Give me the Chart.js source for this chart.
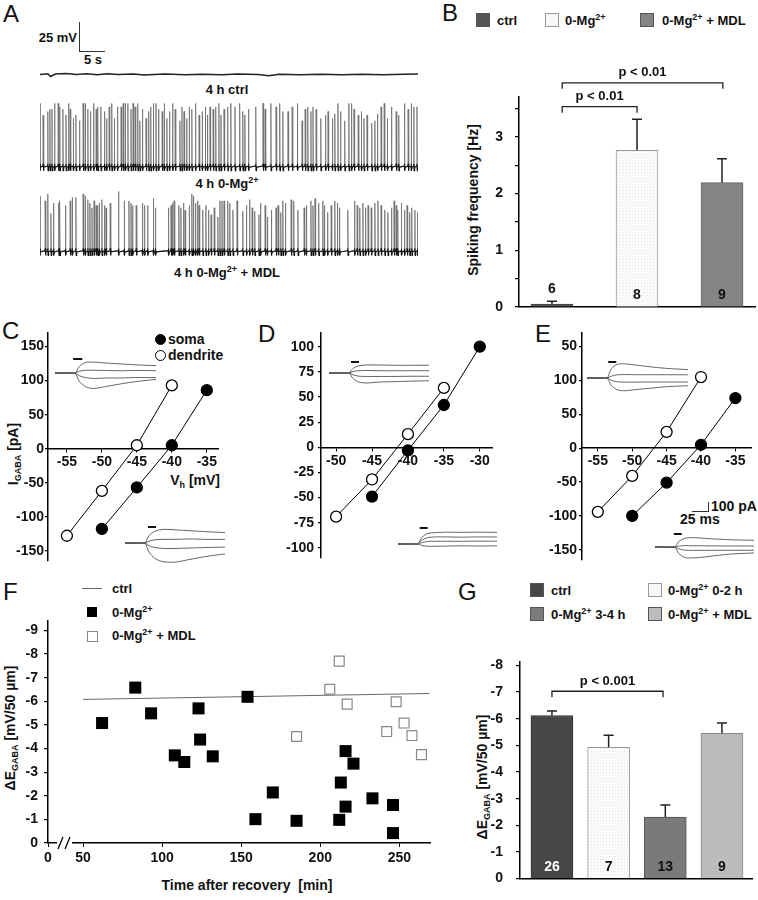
<!DOCTYPE html>
<html>
<head>
<meta charset="utf-8">
<script src="https://cdn.jsdelivr.net/npm/chart.js"></script>
<style>
  body { margin: 0; background: #fff; }
  #fig { position: relative; width: 758px; height: 900px; overflow: hidden; background: #fff;
         font-family: "Liberation Sans", Arial, sans-serif; color: #111; }
  #fig canvas { position: absolute; }
  .t { position: absolute; white-space: nowrap; font-weight: bold; font-size: 13px; line-height: 1; transform: translateY(-50%); }
  .c { transform: translate(-50%, -50%); }
  .v { transform: translate(-50%, -50%) rotate(-90deg); }
  .f14 { font-size: 14px; }
  .L { position: absolute; font-size: 24px; line-height: 1; }
  .sw { position: absolute; width: 14px; height: 14px; box-sizing: border-box; border: 1px solid #555; }
  .ln { position: absolute; background: #333; }
  .dot { position: absolute; width: 11px; height: 11px; border-radius: 50%; box-sizing: border-box; border: 1.3px solid #000; }
  sup { font-size: 9px; vertical-align: 5px; line-height: 0; }
  sub { font-size: 9px; vertical-align: -3px; line-height: 0; }
</style>
</head>
<body>
<div id="fig">
  <div class="L" style="left:3px;top:2px">A</div>
  <div class="L" style="left:442px;top:1px">B</div>
  <div class="L" style="left:2px;top:319px">C</div>
  <div class="L" style="left:258px;top:322px">D</div>
  <div class="L" style="left:535px;top:322px">E</div>
  <div class="L" style="left:3px;top:580px">F</div>
  <div class="L" style="left:458px;top:580px">G</div>

  <!-- A -->
  <div class="t" style="right:681px;top:37px">25 mV</div>
  <div class="t" style="left:84px;top:59px">5 s</div>
  <div class="ln" style="left:79px;top:22px;width:1px;height:29px"></div>
  <div class="ln" style="left:79px;top:51px;width:26px;height:1px"></div>
  <div class="t c" style="left:227px;top:89px">4 h ctrl</div>
  <div class="t c" style="left:227px;top:183px">4 h 0-Mg<sup>2+</sup></div>
  <div class="t c" style="left:227px;top:272px">4 h 0-Mg<sup>2+</sup> + MDL</div>

  <!-- B legend / title -->
  <div class="sw" style="left:476px;top:13px;background:#555"></div>
  <div class="t" style="left:497px;top:20px">ctrl</div>
  <div class="sw" style="left:545px;top:13px;background:#f8f8f8;border-color:#999"></div>
  <div class="t" style="left:565px;top:20px">0-Mg<sup>2+</sup></div>
  <div class="sw" style="left:640px;top:13px;background:#858585"></div>
  <div class="t" style="left:662px;top:20px">0-Mg<sup>2+</sup> + MDL</div>
  <div class="t v f14" style="left:473px;top:200px">Spiking frequency [Hz]</div>

  <!-- C legend / titles -->
  <div class="dot" style="left:155px;top:334px;background:#000"></div>
  <div class="t f14" style="left:168px;top:339px">soma</div>
  <div class="dot" style="left:155px;top:350px;background:#fff"></div>
  <div class="t f14" style="left:168px;top:355px">dendrite</div>
  <div class="t f14" style="right:538px;top:480px">V<sub>h</sub> [mV]</div>
  <div class="t v f14" style="left:13px;top:454px">I<sub>GABA</sub> [pA]</div>

  <!-- E scale bar -->
  <div class="ln" style="left:708px;top:502px;width:1px;height:10px"></div>
  <div class="ln" style="left:692px;top:511px;width:17px;height:1px"></div>
  <div class="t f14" style="left:711px;top:506px">100 pA</div>
  <div class="t f14" style="left:680px;top:519px">25 ms</div>

  <!-- F legend / titles -->
  <div class="ln" style="left:82px;top:588px;width:20px;height:1px;background:#666"></div>
  <div class="t" style="left:112px;top:588px">ctrl</div>
  <div class="ln" style="left:87px;top:607px;width:10px;height:10px;background:#000"></div>
  <div class="t" style="left:112px;top:612px">0-Mg<sup>2+</sup></div>
  <div class="ln" style="left:87px;top:631px;width:9px;height:9px;background:#fff;border:1px solid #888"></div>
  <div class="t" style="left:112px;top:635px">0-Mg<sup>2+</sup> + MDL</div>
  <div class="t v f14" style="left:10px;top:728px">ΔE<sub>GABA</sub> [mV/50 µm]</div>
  <div class="t c f14" style="left:247px;top:885px">Time after recovery&nbsp; [min]</div>

  <!-- G legend / title -->
  <div class="sw" style="left:530px;top:583px;background:#474747"></div>
  <div class="t" style="left:551px;top:590px">ctrl</div>
  <div class="sw" style="left:530px;top:607px;background:#7a7a7a"></div>
  <div class="t" style="left:551px;top:614px">0-Mg<sup>2+</sup> 3-4 h</div>
  <div class="sw" style="left:648px;top:583px;background:#f8f8f8;border-color:#999"></div>
  <div class="t" style="left:668px;top:590px">0-Mg<sup>2+</sup> 0-2 h</div>
  <div class="sw" style="left:648px;top:607px;background:#bcbcbc"></div>
  <div class="t" style="left:668px;top:614px">0-Mg<sup>2+</sup> + MDL</div>
  <div class="t v f14" style="left:482px;top:777px">ΔE<sub>GABA</sub> [mV/50 µm]</div>
</div>

<script>
// ---- A: recordings (time s, mV) ----
const ctrlTrace = [[0,0],[1.5,0.5],[2.0,-1.8],[3,0.3],[5,0.8],[7,0],[9,0.5],[11,-0.3],[13,0.6],[15,0],[18,0.4],
  [20,-0.5],[24,0.3],[28,-0.4],[31,0.2],[35,-0.3],[38,0.4],[42,-0.2],[44,-1.2],[46,0.2],[50,-0.3],[54,0.2],
  [58,-0.4],[62,0.1],[66,-0.3],[70,0.2],[72.7,0.3]];
// spikes: [time s, amplitude mV]
const spikesMg = [[0.0,55],[0.6,45],[1.5,48],[1.9,50],[2.3,50],[2.8,55],[3.5,55],[3.8,52],[4.4,50],[5.0,45],
  [5.5,55],[5.8,50],[6.4,42],[6.9,45],[7.6,40],[8.3,55],[8.7,55],[9.2,50],[9.7,48],[10.3,55],[10.8,50],[11.1,52],
  [11.7,52],[12.4,48],[12.8,42],[13.3,52],[13.8,55],[14.3,42],[14.9,52],[15.6,52],[16.0,55],[16.4,55],[16.9,55],
  [17.5,50],[17.9,55],[18.3,52],[18.8,55],[19.2,40],[19.7,50],[20.4,42],[20.9,48],[21.3,52],[21.8,55],[22.3,55],
  [22.8,50],[23.5,48],[23.9,55],[24.4,42],[24.9,48],[25.5,55],[26.0,50],[26.9,40],[27.3,52],[27.7,48],[28.2,42],
  [28.7,52],[29.2,50],[29.9,55],[30.6,45],[31.2,48],[31.8,52],[32.2,45],[32.7,52],[33.3,50],[33.8,52],[34.4,55],
  [34.8,45],[35.4,50],[36.1,52],[36.7,55],[37.5,52],[38.4,55],[39.0,48],[39.4,45],[40.1,50],[41.5,52],[42.9,55],
  [43.3,50],[44.4,55],[45.4,52],[46.1,55],[46.7,48],[47.7,48],[48.5,52],[49.5,55],[50.4,40],[51.0,50],[51.5,52],
  [52.1,48],[52.5,52],[53.1,50],[54.0,42],[54.9,45],[55.4,48],[56.2,42],[56.7,46],[57.3,55],[57.8,48],[58.6,40],
  [59.4,55],[59.9,55],[60.4,50],[61.2,45],[61.8,48],[62.3,42],[62.9,45],[63.8,38],[64.4,40],[64.9,46],[65.6,52],
  [66.2,55],[66.8,42],[67.6,52],[68.5,48],[69.0,45],[70.1,55],[70.8,50],[71.4,55],[71.9,52],[72.5,52]];
const spikesMdl = [[0.0,48],[1.0,44],[1.5,50],[2.1,33],[2.6,42],[3.6,42],[3.8,44],[4.9,40],[5.8,44],[6.2,47],
  [6.9,47],[8.3,50],[8.7,48],[9.2,45],[9.6,42],[10.0,38],[10.4,44],[10.8,40],[11.1,40],[11.4,42],[11.9,45],
  [12.4,40],[12.7,38],[13.5,42],[15.1,52],[16.2,44],[17.1,44],[17.5,42],[17.8,40],[18.5,40],[19.7,42],[20.1,40],
  [20.7,40],[21.8,46],[22.2,38],[24.7,38],[25.2,40],[25.5,42],[25.8,44],[26.7,40],[27.1,38],[27.6,42],[27.9,36],
  [28.7,40],[29.2,50],[29.5,48],[29.9,42],[30.3,44],[30.6,40],[31.3,36],[31.9,40],[32.4,36],[32.9,32],[33.5,38],
  [34.2,30],[34.6,44],[35.0,44],[35.4,44],[36.1,44],[36.5,42],[37.1,36],[37.9,44],[39.0,35],[39.7,40],[40.3,45],
  [40.8,38],[41.3,35],[42.1,32],[42.4,42],[43.3,40],[43.7,30],[44.5,36],[45.4,38],[45.8,40],[46.3,34],[46.7,44],
  [47.2,42],[48.3,45],[48.8,44],[49.6,36],[50.8,38],[51.2,40],[52.1,44],[52.5,40],[52.9,46],[53.6,42],[54.4,44],
  [54.7,40],[55.3,34],[56.0,40],[56.7,44],[57.2,42],[57.6,38],[59.2,36],[60.5,44],[61.0,40],[61.5,38],[62.1,42],
  [62.6,38],[63.1,40],[63.7,38],[64.4,42],[65.0,44],[65.6,40],[66.3,36],[66.9,34],[67.6,38],[68.1,44],[68.5,40],
  [68.8,36],[69.5,42],[70.1,36],[70.6,40],[71.1,34],[71.5,38],[72.1,36],[72.6,34]];

// ---- B: spiking frequency ----
const bGroups = ['ctrl', '0-Mg2+', '0-Mg2+ + MDL'];
const bFreq = [0.05, 2.76, 2.19];
const bSem = [0.05, 0.55, 0.42];
const bN = ['6', '8', '9'];
const bTicks = [0, 0.5, 1, 1.5, 2, 2.5, 3, 3.5];
const bTickLabels = ['0', '', '1', '', '2', '', '3', ''];

// ---- C-E: I-V relations (mV, pA) ----
const cDendV = [-55, -50, -45, -40], cDendI = [-128, -62, 5, 93];
const cSomaV = [-50, -45, -40, -35], cSomaI = [-118, -57, 5, 86];
const dDendV = [-50, -45, -40, -35], dDendI = [-69, -32, 13, 59];
const dSomaV = [-45, -40, -35, -30], dSomaI = [-49, -3, 42, 100];
const eDendV = [-55, -50, -45, -40], eDendI = [-94, -41, 24, 105];
const eSomaV = [-50, -45, -40, -35], eSomaI = [-100, -51, 5, 74];
const ivXTicksCE = [-55, -50, -45, -40, -35];
const ivXTicksD = [-50, -45, -40, -35, -30];
const ivYTicksCE = [-150, -100, -50, 0, 50, 100, 150];
const ivYLabelsC = ['-150', '-100', '-50', '0', '50', '100', '150'];
const ivYLabelsE = ['-150', '-100', '-50', '0', '50', '100', '50'];
const ivYTicksD = [-100, -75, -50, -25, 0, 25, 50, 75, 100];

// inset current traces (ms, pA)
const insetT = [0, 8, 16, 20, 24, 30, 38, 50, 65, 80, 100];
const insetCtop = [[5,-5,5,0,70,115,120,110,100,90,80],[0,5,-5,0,20,30,30,28,25,28,25],
  [-5,0,0,0,-30,-50,-60,-55,-55,-50,-50],[0,-5,0,0,-90,-150,-170,-150,-120,-95,-70]];
const insetCbot = [[5,0,5,0,80,130,150,145,135,125,115],[0,5,0,0,20,35,40,40,45,40,40],
  [-5,0,-5,0,-30,-50,-60,-60,-55,-50,-45],[0,-5,0,0,-100,-170,-205,-210,-180,-150,-120]];
const insetDtop = [[5,0,0,0,50,80,88,88,85,85,85],[0,5,0,0,15,25,28,25,25,25,25],
  [-5,0,0,0,-20,-35,-38,-38,-38,-36,-36],[0,-5,0,0,-60,-100,-110,-100,-95,-90,-85]];
const insetDbot = [[5,0,0,0,70,115,125,130,128,130,128],[0,5,0,0,40,70,78,78,75,78,77],
  [-5,0,0,0,15,28,30,30,30,32,30],[0,-5,0,0,-15,-25,-25,-22,-20,-22,-20]];
const insetEtop = [[5,0,5,0,100,150,155,140,120,105,92],[0,5,0,0,20,35,38,36,36,36,35],
  [-5,0,-5,0,-25,-42,-45,-45,-44,-44,-44],[0,-5,0,0,-80,-130,-140,-125,-110,-95,-85]];
const insetEbot = [[5,0,0,0,60,95,103,95,85,78,74],[0,5,0,0,10,15,14,13,12,12,11],
  [-5,0,-5,0,-20,-35,-37,-37,-36,-36,-36],[0,-5,0,0,-70,-115,-120,-110,-90,-75,-66]];
const stimCtop = [18, 27], stimCbot = [23, 31], stimDtop = [22, 30];
const stimDbot = [22, 30], stimEtop = [21, 29], stimEbot = [19, 27];

// ---- F: ΔE_GABA vs time (min, mV/50 µm) ----
const fCtrlLine = [[50, -6.08], [269, -6.33]];
const fMg = [[62,-5.08],[83,-6.58],[93,-5.49],[108,-3.71],[114,-3.43],[123,-5.70],[124,-4.38],[132,-3.67],
  [154,-6.19],[159,-1.01],[170,-2.14],[185,-0.94],[212,-0.98],[216,-3.89],[213,-2.56],[221,-3.36],[216,-1.54],
  [233,-1.89],[246,-1.61],[246,-0.42]];
const fMdl = [[185,-4.51],[206,-6.51],[212,-7.70],[217,-5.88],[242,-4.72],[248,-5.98],[253,-5.08],[258,-4.55],[264,-3.74]];
const fXTicks = [27.8, 50, 100, 150, 200, 250];
const fXLabels = ['0', '50', '100', '150', '200', '250'];
const fYTicks = [-9, -8, -7, -6, -5, -4, -3, -2, -1, 0];

// ---- G: ΔE_GABA per group ----
const gGroups = ['ctrl', '0-Mg2+ 0-2 h', '0-Mg2+ 3-4 h', '0-Mg2+ + MDL'];
const gVals = [-6.12, -4.93, -2.31, -5.45];
const gSem = [0.17, 0.45, 0.45, 0.39];
const gN = ['26', '7', '13', '9'];
const gYTicks = [-8, -7, -6, -5, -4, -3, -2, -1, 0];

// ---------------------------------------------------------------
Chart.defaults.font.family = '"Liberation Sans", Arial, sans-serif';
Chart.defaults.font.size = 14;
Chart.defaults.font.weight = 'bold';
Chart.defaults.color = '#111';
Chart.defaults.animation = false;
Chart.defaults.responsive = false;
Chart.defaults.plugins.legend.display = false;
Chart.defaults.plugins.tooltip.enabled = false;

function mk(left, top, w, h) {
  const c = document.createElement('canvas');
  c.width = w; c.height = h;
  c.style.left = left + 'px'; c.style.top = top + 'px';
  c.style.width = w + 'px'; c.style.height = h + 'px';
  document.getElementById('fig').appendChild(c);
  return c;
}

function yAxis(o) {
  return {
    type: 'linear', min: o.min, max: o.max, reverse: !!o.reverse,
    afterFit: s => { s.width = o.width; },
    afterBuildTicks: s => { s.ticks = o.ticks.map(v => ({ value: v })); },
    ticks: { padding: o.gap, autoSkip: false, callback: (v, i) => o.labels[i] },
    grid: { drawOnChartArea: false, tickLength: o.tl || 4, color: '#000', lineWidth: 1.2 },
    border: { color: '#000', width: 1.5 }
  };
}

function pts(xs, ys) { return xs.map((x, i) => ({ x: x, y: ys[i] })); }

// A: traces; spikes drawn in grey, the noisy baseline band in black on top
function spikeTrain(spikes, base, cap) {
  const p = [{ x: 0, y: base }];
  spikes.forEach(([t, h]) => {
    p.push({ x: t - 0.04, y: base + 1 }, { x: t, y: base + Math.min(h, cap) },
           { x: t + 0.07, y: base - 3 }, { x: t + 0.15, y: base });
  });
  p.push({ x: 72.7, y: base });
  return p;
}
new Chart(mk(40, 60, 378, 200), {
  type: 'line',
  data: { datasets: [
    { data: ctrlTrace.map(([t, v]) => ({ x: t, y: 160 + v })), borderColor: '#222', borderWidth: 1.5 },
    { data: spikeTrain(spikesMg, 80, 3), borderColor: '#111', borderWidth: 1.1 },
    { data: spikeTrain(spikesMdl, 7, 3), borderColor: '#111', borderWidth: 1.1 },
    { data: spikeTrain(spikesMg, 80, 99), borderColor: '#707070', borderWidth: 0.8 },
    { data: spikeTrain(spikesMdl, 7, 99), borderColor: '#707070', borderWidth: 0.8 }
  ] },
  options: {
    layout: { padding: 0 },
    elements: { point: { radius: 0 }, line: { tension: 0 } },
    scales: { x: { type: 'linear', min: 0, max: 72.7, display: false }, y: { min: 0, max: 172.4, display: false } }
  }
});

// B/G extras: error bars, n labels, significance brackets
const extras = {
  id: 'extras',
  afterDatasetsDraw(chart, args, o) {
    const ctx = chart.ctx, xs = chart.scales.x, ys = chart.scales.y;
    const meta = chart.getDatasetMeta(0), data = chart.data.datasets[0].data;
    ctx.save();
    ctx.strokeStyle = '#222'; ctx.lineWidth = 1.5;
    ctx.textAlign = 'center'; ctx.textBaseline = 'middle';
    meta.data.forEach((bar, i) => {
      const v = data[i].y;
      const yTop = ys.getPixelForValue(v + Math.sign(v) * o.err[i]);
      ctx.beginPath();
      ctx.moveTo(bar.x, bar.y); ctx.lineTo(bar.x, yTop);
      ctx.moveTo(bar.x - 5, yTop); ctx.lineTo(bar.x + 5, yTop);
      ctx.stroke();
      const inside = Math.abs(bar.base - bar.y) > 30;
      ctx.fillStyle = o.countColors[i];
      ctx.font = 'bold 14px "Liberation Sans", Arial';
      ctx.fillText(o.counts[i], bar.x, inside ? bar.base - 11 : yTop - 12);
    });
    ctx.lineWidth = 1.3; ctx.fillStyle = '#111';
    ctx.font = 'bold 13px "Liberation Sans", Arial';
    o.brackets.forEach(b => {
      const x1 = xs.getPixelForValue(b.x1), x2 = xs.getPixelForValue(b.x2), y = ys.getPixelForValue(b.y);
      ctx.beginPath();
      ctx.moveTo(x1, y + 6); ctx.lineTo(x1, y); ctx.lineTo(x2, y); ctx.lineTo(x2, y + 6);
      ctx.stroke();
      ctx.fillText(b.label, (x1 + x2) / 2, y - 10);
    });
    ctx.restore();
  }
};

function dotPattern(bg, dot) {
  const c = document.createElement('canvas');
  c.width = c.height = 3;
  const x = c.getContext('2d');
  x.fillStyle = bg; x.fillRect(0, 0, 3, 3);
  x.fillStyle = dot; x.fillRect(0, 0, 1, 1);
  return x.createPattern(c, 'repeat');
}
const whitePat = dotPattern('#fbfbfb', '#e6e6e6');

// B
new Chart(mk(440, 40, 318, 300), {
  type: 'bar',
  data: { datasets: [{
    data: bFreq.map((v, i) => ({ x: i + 1, y: v })),
    backgroundColor: ['#555', whitePat, '#858585'],
    borderColor: ['#444', '#999', '#666'], borderWidth: 1, barThickness: 42
  }] },
  options: {
    layout: { padding: { top: 57, right: 3, left: 0, bottom: 0 } },
    plugins: { extras: { err: bSem, counts: bN, countColors: ['#111', '#111', '#111'],
      brackets: [{ x1: 1.12, x2: 2, y: 3.53, label: 'p < 0.01' }, { x1: 1.12, x2: 3.01, y: 3.95, label: 'p < 0.01' }] } },
    scales: {
      x: { type: 'linear', min: 0.612, max: 3.388, offset: false, afterFit: s => { s.height = 33; },
        ticks: { display: false }, grid: { drawOnChartArea: false, drawTicks: false, offset: false },
        border: { color: '#000', width: 1.5 } },
      y: yAxis({ min: 0, max: 3.7, ticks: bTicks, labels: bTickLabels, width: 79, gap: 12 })
    }
  },
  plugins: [extras]
});

// C-E: I-V
function ivChart(canvas, o) {
  return new Chart(canvas, {
    type: 'line',
    data: { datasets: [
      { data: o.dend, borderColor: '#000', borderWidth: 1, pointRadius: 5.5, pointBackgroundColor: '#fff',
        pointBorderColor: '#000', pointBorderWidth: 1.3, clip: false },
      { data: o.soma, borderColor: '#000', borderWidth: 1, pointRadius: 5.5, pointBackgroundColor: '#000',
        pointBorderColor: '#000', pointBorderWidth: 1.3, clip: false }
    ] },
    options: {
      layout: { padding: { top: 13, bottom: 7, right: o.right, left: 0 } },
      elements: { line: { tension: 0 } },
      scales: {
        x: { type: 'linear', position: { y: 0 }, min: o.xmin, max: o.xmax,
          afterBuildTicks: s => { s.ticks = o.xt.map(v => ({ value: v })); },
          ticks: { padding: 2, autoSkip: false, maxRotation: 0, callback: v => String(v) },
          grid: { drawOnChartArea: false, tickLength: 3, color: '#000' },
          border: { color: '#000', width: 1.5 } },
        y: yAxis({ min: o.ymin, max: o.ymax, ticks: o.yt, labels: o.yl, width: o.yw, gap: o.gap, tl: 3 })
      }
    }
  });
}
ivChart(mk(0, 320, 250, 250), { dend: pts(cDendV, cDendI), soma: pts(cSomaV, cSomaI), right: 32,
  xmin: -57.7, xmax: -33.4, ymin: -164.5, ymax: 170, xt: ivXTicksCE, yt: ivYTicksCE, yl: ivYLabelsC, yw: 48, gap: 1 });
ivChart(mk(255, 320, 250, 250), { dend: pts(dDendV, dDendI), soma: pts(dSomaV, dSomaI), right: 13,
  xmin: -52.1, xmax: -28.3, ymin: -109.7, ymax: 113.6, xt: ivXTicksD, yt: ivYTicksD,
  yl: ivYTicksD.map(String), yw: 66, gap: 4 });
ivChart(mk(500, 320, 258, 250), { dend: pts(eDendV, eDendI), soma: pts(eSomaV, eSomaI), right: 5,
  xmin: -57.3, xmax: -32.7, ymin: -164.5, ymax: 170, xt: ivXTicksCE, yt: ivYTicksCE, yl: ivYLabelsE, yw: 82, gap: 2 });

// insets
const pAperPx = 11;
const insetBoxes = [
  { tr: insetCtop, stim: stimCtop, left: 55, top: 354, w: 101, h: 40, base: 373, barY: 359 },
  { tr: insetCbot, stim: stimCbot, left: 125, top: 522, w: 100, h: 44, base: 543, barY: 527 },
  { tr: insetDtop, stim: stimDtop, left: 329, top: 356, w: 100, h: 36, base: 373, barY: 362 },
  { tr: insetDbot, stim: stimDbot, left: 398, top: 522, w: 99, h: 34, base: 544, barY: 528 },
  { tr: insetEtop, stim: stimEtop, left: 587, top: 354, w: 101, h: 44, base: 378, barY: 362 },
  { tr: insetEbot, stim: stimEbot, left: 655, top: 528, w: 99, h: 34, base: 547, barY: 534 }
];
insetBoxes.forEach(b => {
  const barV = (b.base - b.barY) * pAperPx;
  const ds = b.tr.map(row => ({ data: pts(insetT, row), borderColor: '#555', borderWidth: 0.9 }));
  ds.push({ data: [{ x: b.stim[0], y: barV }, { x: b.stim[1], y: barV }], borderColor: '#111', borderWidth: 2 });
  new Chart(mk(b.left, b.top, b.w, b.h), {
    type: 'line',
    data: { datasets: ds },
    options: {
      layout: { padding: 0 },
      elements: { point: { radius: 0 }, line: { tension: 0.3 } },
      scales: {
        x: { type: 'linear', min: 0, max: 100, display: false },
        y: { min: -(b.top + b.h - b.base) * pAperPx, max: (b.base - b.top) * pAperPx, display: false }
      }
    }
  });
});

// F
const axisBreak = {
  id: 'axisBreak',
  afterDraw(chart) {
    const ctx = chart.ctx, y = chart.chartArea.bottom;
    ctx.save();
    ctx.fillStyle = '#fff'; ctx.fillRect(57, y - 3, 15, 6);
    ctx.strokeStyle = '#000'; ctx.lineWidth = 1.3;
    ctx.beginPath();
    ctx.moveTo(58, y + 6); ctx.lineTo(63, y - 6);
    ctx.moveTo(65, y + 6); ctx.lineTo(70, y - 6);
    ctx.stroke();
    ctx.restore();
  }
};
new Chart(mk(0, 600, 450, 300), {
  type: 'scatter',
  data: { datasets: [
    { data: fMg.map(([x, y]) => ({ x, y })), pointStyle: 'rect', pointRadius: 8.5, backgroundColor: '#000',
      borderColor: '#000', borderWidth: 0, clip: false },
    { data: fMdl.map(([x, y]) => ({ x, y })), pointStyle: 'rect', pointRadius: 7, backgroundColor: '#fff',
      borderColor: '#888', borderWidth: 1.2, clip: false },
    { data: fCtrlLine.map(([x, y]) => ({ x, y })), showLine: true, pointRadius: 0, borderColor: '#666', borderWidth: 1 }
  ] },
  options: {
    layout: { padding: { top: 21, right: 20, left: 0, bottom: 0 } },
    scales: {
      x: { type: 'linear', min: 27.8, max: 269.4, afterFit: s => { s.height = 57; },
        afterBuildTicks: s => { s.ticks = fXTicks.map(v => ({ value: v })); },
        ticks: { padding: 3, autoSkip: false, maxRotation: 0, callback: (v, i) => fXLabels[i] },
        grid: { drawOnChartArea: false, tickLength: 4, color: '#000' },
        border: { color: '#000', width: 1.5 } },
      y: yAxis({ min: -9.4, max: 0, reverse: true, ticks: fYTicks, labels: fYTicks.map(String), width: 48, gap: 6 })
    }
  },
  plugins: [axisBreak]
});

// G
new Chart(mk(450, 640, 308, 260), {
  type: 'bar',
  data: { datasets: [{
    data: gVals.map((v, i) => ({ x: i + 1, y: v })),
    backgroundColor: ['#474747', whitePat, '#7a7a7a', '#bcbcbc'],
    borderColor: ['#333', '#999', '#555', '#888'], borderWidth: 1, barThickness: 42
  }] },
  options: {
    layout: { padding: { top: 20, right: 6, left: 0, bottom: 0 } },
    plugins: { extras: { err: gSem, counts: gN, countColors: ['#fff', '#111', '#111', '#111'],
      brackets: [{ x1: 1, x2: 2.96, y: -7.03, label: 'p < 0.001' }] } },
    scales: {
      x: { type: 'linear', min: 0.436, max: 4.53, offset: false, afterFit: s => { s.height = 7; },
        ticks: { display: false }, grid: { drawOnChartArea: false, drawTicks: false, offset: false },
        border: { color: '#000', width: 1.5 } },
      y: yAxis({ min: -8.15, max: 0, reverse: true, ticks: gYTicks, labels: gYTicks.map(String), width: 70, gap: 13 })
    }
  },
  plugins: [extras]
});
</script>
</body>
</html>
